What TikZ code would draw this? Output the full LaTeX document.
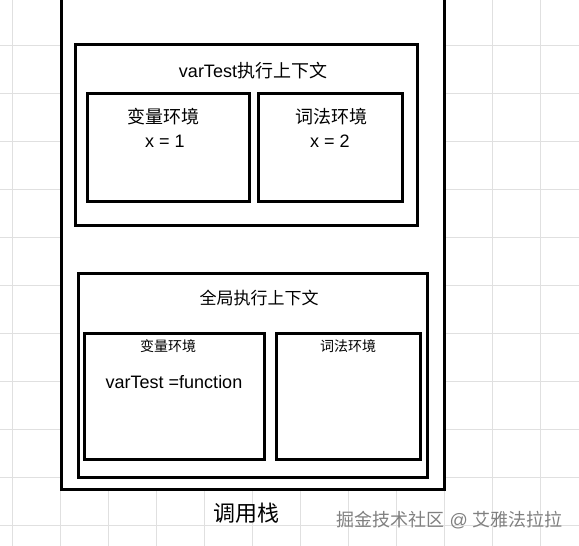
\documentclass[tikz,border=0pt]{standalone}
\usepackage{fontspec}
\setmainfont{Liberation Sans}
\newfontfamily\cjk{Noto Sans CJK SC}
\begin{document}
\begin{tikzpicture}[x=1pt,y=-1pt,
  box/.style={draw=black,line width=3pt,fill=white,inner sep=0pt,outer sep=0pt},
  gridline/.style={draw=black!12,line width=0.8pt},
  txt/.style={inner sep=0pt,font=\fontsize{18}{20}\selectfont},
  smalltxt/.style={inner sep=0pt,font=\fontsize{14}{16}\selectfont},
  bigtxt/.style={inner sep=0pt,font=\fontsize{22}{24}\selectfont},
  wmtxt/.style={inner sep=0pt,text=black!50,font=\fontsize{18}{20}\selectfont}]
\useasboundingbox (0,0) rectangle (579,546);
\clip (0,0) rectangle (579,546);
\fill[white] (0,0) rectangle (579,546);
\foreach \x in {12,60,...,588} \draw[gridline] (\x,0) -- (\x,546);
\foreach \y in {45,93,...,525} \draw[gridline] (0,\y) -- (579,\y);
% call stack
\node[box,minimum width=383pt,minimum height=509pt] (stack) at (252.5,234.5) {};
% varTest context
\node[box,minimum width=342pt,minimum height=181pt] (vt) at (246,134.5) {};
\node[box,minimum width=162pt,minimum height=108pt] (vtvar) at (168,147) {};
\node[box,minimum width=144pt,minimum height=108pt] (vtlex) at (330,147) {};
\node[txt] (vttitle) at (253,71) {varTest{\cjk 执行上下文}};
\node[txt] (vtvarl) at (163,117) {\cjk 变量环境};
\node[txt] (vtvarx) at (165,141) {x = 1};
\node[txt] (vtlexl) at (331,117) {\cjk 词法环境};
\node[txt] (vtlexx) at (330,141) {x = 2};
% global context
\node[box,minimum width=349pt,minimum height=204pt] (gl) at (252.5,375) {};
\node[box,minimum width=180pt,minimum height=126pt] (glvar) at (174,396) {};
\node[box,minimum width=144pt,minimum height=126pt] (gllex) at (348,396) {};
\node[txt,font=\fontsize{17}{20}\selectfont] (gltitle) at (259,298) {\cjk 全局执行上下文};
\node[smalltxt] (glvarl) at (168,346) {\cjk 变量环境};
\node[txt] (glvarv) at (174,382) {varTest =function};
\node[smalltxt] (gllexl) at (348,346) {\cjk 词法环境};
% labels
\node[bigtxt] (stackl) at (246,513) {\cjk 调用栈};
\node[wmtxt,anchor=east] (wm) at (563,520) {{\cjk 掘金技术社区} @ {\cjk 艾雅法拉拉}};
\end{tikzpicture}
\end{document}
